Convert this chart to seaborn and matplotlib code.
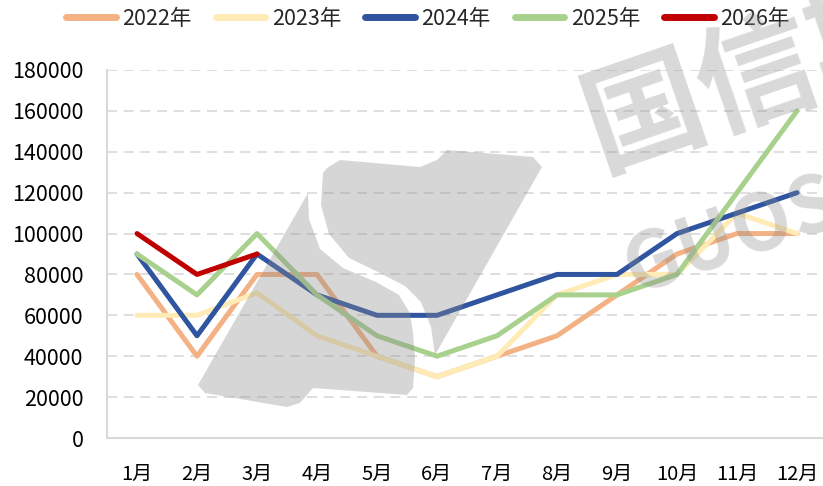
import matplotlib
matplotlib.use("Agg")
import matplotlib.pyplot as plt
import seaborn as sns
import pandas as pd
from matplotlib.patches import Polygon

months = ["1月", "2月", "3月", "4月", "5月", "6月", "7月", "8月", "9月", "10月", "11月", "12月"]
s2022 = [80000, 40000, 80000, 80000, 40000, 30000, 40000, 50000, 70000, 90000, 100000, 100000]
s2023 = [60000, 60000, 71000, 50000, 40000, 30000, 40000, 70000, 80000, 80000, 110000, 100000]
s2024 = [90000, 50000, 90000, 70000, 60000, 60000, 70000, 80000, 80000, 100000, 110000, 120000]
s2025 = [90000, 70000, 100000, 70000, 50000, 40000, 50000, 70000, 70000, 80000, 120000, 160000]
s2026 = [100000, 80000, 90000]
years = ["2022年", "2023年", "2024年", "2025年", "2026年"]
colors = ["#F4B183", "#FFEBB5", "#2F55A0", "#A9D18E", "#C00000"]
yticks = [0, 20000, 40000, 60000, 80000, 100000, 120000, 140000, 160000, 180000]

rows = []
for yr, vals in zip(years, [s2022, s2023, s2024, s2025, s2026]):
    for m, v in zip(months, vals):
        rows.append({"月份": m, "值": v, "年份": yr})
df = pd.DataFrame(rows)

sns.set_theme(style="white")
plt.rcParams["font.family"] = ["Noto Sans CJK SC", "DejaVu Sans"]

W, H = 823, 486
fig = plt.figure(figsize=(W / 100, H / 100), dpi=100)
ax = fig.add_axes([107 / W, 1 - 438 / H, 720 / W, (438 - 70) / H])

sns.lineplot(data=df, x="月份", y="值", hue="年份", hue_order=years,
             palette=dict(zip(years, colors)), sort=False, linewidth=3.6,
             ax=ax, legend=True)

ax.set_xlim(-0.5, 11.5)
ax.set_ylim(0, 180000)
ax.set_yticks(yticks)
ax.set_yticklabels([str(v) for v in yticks])
ax.set_xticks(range(len(months)))
ax.set_xticklabels(months)
ax.set_xlabel("")
ax.set_ylabel("")
ax.tick_params(axis="y", length=0, pad=17, labelsize=15.5, colors="#000000")
ax.tick_params(axis="x", length=0, pad=19, labelsize=14.5, colors="#000000")
ax.yaxis.grid(True, color="#D9D9D9", linestyle=(0, (6, 4)), linewidth=1.2)
ax.xaxis.grid(False)
for side in ["top", "right"]:
    ax.spines[side].set_visible(False)
for side in ["left", "bottom"]:
    ax.spines[side].set_color("#D9D9D9")
    ax.spines[side].set_linewidth(1.5)

handles, labels = ax.get_legend_handles_labels()
ax.legend(handles, labels, loc="center", bbox_to_anchor=(428 / W, 1 - 19 / H),
          bbox_transform=fig.transFigure, ncol=5, frameon=False, fontsize=15.5,
          handlelength=2.3, handletextpad=0.3, columnspacing=1.12)
for lh in ax.get_legend().get_lines():
    lh.set_linewidth(5)

# watermark
def to_fig(pts):
    return [(x / W, 1 - y / H) for x, y in pts]

left_piece = [(198, 385), (205, 393), (287, 407), (300, 403), (313, 388), (407, 395),
              (413, 388), (415, 360), (413, 333), (410, 313), (399, 295), (376, 282),
              (343, 268), (320, 249), (309, 219), (308, 193)]
right_piece = [(323, 173), (327, 168), (340, 160), (420, 167), (437, 160), (447, 150),
               (533, 157), (542, 167), (435, 355), (431, 327), (421, 302), (405, 286),
               (378, 272), (349, 258), (329, 234), (321, 205)]
for pts in [left_piece, right_piece]:
    fig.patches.append(Polygon(to_fig(pts), closed=True, transform=fig.transFigure,
                               facecolor="#8C8C8C", edgecolor="none", alpha=0.35,
                               zorder=10, joinstyle="round"))
fig.text(600 / W, 1 - 167 / H, "国信期货", rotation=19, rotation_mode="anchor",
         ha="left", va="baseline", fontsize=86, fontweight="bold",
         color="#8C8C8C", alpha=0.33, zorder=10)
fig.text(634 / W, 1 - 294 / H, "GUOSEN", rotation=19, rotation_mode="anchor",
         ha="left", va="baseline", fontsize=56, fontweight="bold",
         color="#8C8C8C", alpha=0.33, zorder=10)

fig.savefig("out.png", dpi=100)
